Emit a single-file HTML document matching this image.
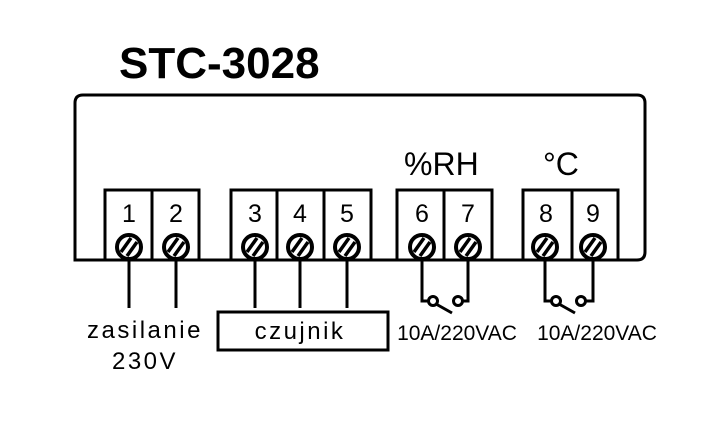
<!DOCTYPE html>
<html><head><style>body{margin:0;background:#fff}svg{display:block}</style></head><body>
<svg width="720" height="425" viewBox="0 0 720 425" xmlns="http://www.w3.org/2000/svg" font-family="Liberation Sans, sans-serif">
<defs>
<g id="scr"><circle r="12" fill="#fff" stroke="#000" stroke-width="4"/>
<line x1="-8" y1="5" x2="2" y2="-9" stroke="#000" stroke-width="3.5"/><line x1="-2" y1="9" x2="8" y2="-5" stroke="#000" stroke-width="3.5"/></g>
</defs>
<text x="119" y="78" font-size="44" font-weight="bold">STC-3028</text>
<path d="M75 260 L75 103 Q75 95 83 95 L637 95 Q645 95 645 103 L645 252 Q645 260 637 260 Z" fill="none" stroke="#000" stroke-width="3"/>
<g fill="none" stroke="#000" stroke-width="3">
<rect x="105" y="190" width="94" height="70"/><line x1="152" y1="190" x2="152" y2="260"/>
<rect x="231" y="190" width="140" height="70"/><line x1="277" y1="190" x2="277" y2="260"/><line x1="324" y1="190" x2="324" y2="260"/>
<rect x="397" y="190" width="95" height="70"/><line x1="444" y1="190" x2="444" y2="260"/>
<rect x="523" y="190" width="95" height="70"/><line x1="572" y1="190" x2="572" y2="260"/>
<line x1="129" y1="247" x2="129" y2="308"/><line x1="176" y1="247" x2="176" y2="308"/>
<line x1="255" y1="247" x2="255" y2="308"/><line x1="300" y1="247" x2="300" y2="308"/><line x1="347" y1="247" x2="347" y2="308"/>
<rect x="218" y="312" width="170" height="38"/>
<path d="M422 247 V301 H428 M436 304 L452 313 M453 301 H468 V247" />
<circle cx="433" cy="301" r="4.5" fill="#fff"/><circle cx="458" cy="301" r="4.5" fill="#fff"/>
<path d="M545 247 V301 H551 M559 304 L575 313 M576 301 H593 V247" />
<circle cx="556" cy="301" r="4.5" fill="#fff"/><circle cx="581" cy="301" r="4.5" fill="#fff"/>
</g>
<use href="#scr" x="129" y="247"/><use href="#scr" x="176" y="247"/><use href="#scr" x="255" y="247"/><use href="#scr" x="300" y="247"/><use href="#scr" x="347" y="247"/>
<use href="#scr" x="422" y="247"/><use href="#scr" x="468" y="247"/><use href="#scr" x="545" y="247"/><use href="#scr" x="593" y="247"/>
<g font-size="25" text-anchor="middle">
<text x="129" y="222">1</text><text x="176" y="222">2</text><text x="255" y="222">3</text><text x="300" y="222">4</text><text x="347" y="222">5</text>
<text x="422" y="222">6</text><text x="468" y="222">7</text><text x="546" y="222">8</text><text x="593" y="222">9</text>
</g>
<text x="404" y="175" font-size="32">%RH</text>
<text x="543" y="175" font-size="32">°C</text>
<text x="145" y="338" font-size="24" text-anchor="middle" letter-spacing="2.5">zasilanie</text>
<text x="145" y="369" font-size="24" text-anchor="middle" letter-spacing="2.5">230V</text>
<text x="300" y="339" font-size="24" text-anchor="middle" letter-spacing="2.5">czujnik</text>
<text x="457" y="340" font-size="21" text-anchor="middle">10A/220VAC</text>
<text x="597" y="340" font-size="21" text-anchor="middle">10A/220VAC</text>
</svg>
</body></html>
